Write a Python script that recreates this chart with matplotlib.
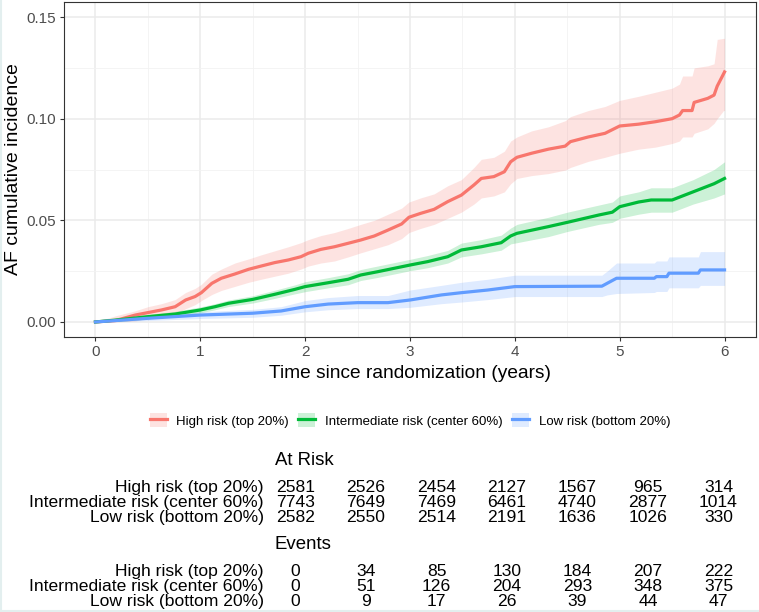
import numpy as np
import matplotlib
matplotlib.use('Agg')
from matplotlib import pyplot as plt
from matplotlib.patches import Patch
from matplotlib.lines import Line2D

plt.rcParams['font.family'] = ['Liberation Sans', 'DejaVu Sans']

# cumulative incidence + 95% band
t_high = [0, 0.19, 0.38, 0.5, 0.63, 0.76, 0.86, 0.95, 1.01, 1.11, 1.2, 1.33, 1.46, 1.58, 1.71,
          1.84, 1.96, 2.03, 2.15, 2.28, 2.41, 2.53, 2.66, 2.79, 2.92, 2.99, 3.1, 3.23, 3.36,
          3.49, 3.61, 3.68, 3.8, 3.9, 3.96, 4.02, 4.16, 4.32, 4.48, 4.53, 4.7, 4.86, 5.0, 5.18,
          5.34, 5.5, 5.57, 5.6, 5.69, 5.71, 5.84, 5.9, 5.93, 5.99, 6.0]
est_high = [0, 0.0007, 0.0034, 0.0046, 0.0059, 0.0075, 0.0108, 0.0125, 0.0144, 0.019, 0.0215,
            0.0236, 0.0259, 0.0275, 0.0292, 0.0305, 0.0321, 0.0338, 0.0357, 0.037, 0.0387,
            0.0403, 0.0423, 0.0452, 0.0482, 0.0515, 0.0534, 0.0554, 0.0592, 0.0624, 0.0674,
            0.0706, 0.0715, 0.0739, 0.0788, 0.081, 0.083, 0.085, 0.0865, 0.0887, 0.091, 0.0928,
            0.0964, 0.0973, 0.0985, 0.100, 0.1018, 0.104, 0.104, 0.108, 0.110, 0.1116, 0.116,
            0.122, 0.123]
lo_high = [0, 0, 0.0005, 0.0018, 0.0025, 0.004, 0.0065, 0.0085, 0.0105, 0.0135, 0.0155, 0.0175,
           0.0195, 0.021, 0.0225, 0.024, 0.026, 0.0275, 0.029, 0.030, 0.032, 0.034, 0.036, 0.038,
           0.041, 0.044, 0.046, 0.048, 0.051, 0.054, 0.058, 0.061, 0.062, 0.064, 0.068, 0.0706,
           0.072, 0.073, 0.0747, 0.076, 0.079, 0.081, 0.083, 0.085, 0.086, 0.0878, 0.089, 0.091,
           0.091, 0.0928, 0.095, 0.0977, 0.100, 0.104, 0.104]
hi_high = [0, 0.003, 0.0055, 0.0075, 0.009, 0.011, 0.0145, 0.0165, 0.0185, 0.0235, 0.026, 0.029,
           0.031, 0.033, 0.035, 0.037, 0.039, 0.0405, 0.0425, 0.044, 0.046, 0.048, 0.050, 0.053,
           0.056, 0.059, 0.061, 0.063, 0.067, 0.070, 0.076, 0.080, 0.081, 0.084, 0.089, 0.091,
           0.094, 0.096, 0.099, 0.101, 0.104, 0.106, 0.109, 0.111, 0.113, 0.115, 0.117, 0.121,
           0.121, 0.125, 0.126, 0.127, 0.139, 0.1395, 0.1395]

t_mid = [0, 0.25, 0.5, 0.76, 1.0, 1.14, 1.27, 1.5, 1.71, 1.9, 2.0, 2.22, 2.41, 2.53, 2.69, 3.0,
         3.17, 3.36, 3.49, 3.68, 3.87, 3.96, 4.02, 4.32, 4.5, 4.8, 4.93, 5.0, 5.18, 5.3, 5.5,
         5.7, 5.9, 6.0]
est_mid = [0, 0.0012, 0.0026, 0.0039, 0.0059, 0.0075, 0.0092, 0.0111, 0.0136, 0.016, 0.0174,
           0.0193, 0.021, 0.0231, 0.0247, 0.028, 0.0297, 0.0321, 0.0354, 0.037, 0.039, 0.0423,
           0.0436, 0.0469, 0.049, 0.0526, 0.054, 0.0567, 0.059, 0.060, 0.060, 0.064, 0.068, 0.0706]
lo_mid = [0, 0.0003, 0.0015, 0.0027, 0.0045, 0.006, 0.0076, 0.0093, 0.0116, 0.0138, 0.0149,
          0.0168, 0.0183, 0.0204, 0.0219, 0.0252, 0.0267, 0.029, 0.032, 0.0335, 0.0353, 0.0384,
          0.039, 0.042, 0.0445, 0.048, 0.049, 0.051, 0.053, 0.054, 0.054, 0.058, 0.061, 0.063]
hi_mid = [0, 0.002, 0.0037, 0.0052, 0.0074, 0.009, 0.0108, 0.0129, 0.0156, 0.0182, 0.0198,
          0.0218, 0.0237, 0.0258, 0.0275, 0.0308, 0.0327, 0.0352, 0.0388, 0.0405, 0.0427, 0.0462,
          0.048, 0.0515, 0.054, 0.0575, 0.059, 0.062, 0.064, 0.066, 0.066, 0.070, 0.075, 0.0788]

t_low = [0, 0.5, 1.0, 1.5, 1.77, 2.0, 2.22, 2.5, 2.79, 3.0, 3.3, 3.49, 3.74, 4.0, 4.83, 4.88,
         4.97, 5.33, 5.35, 5.45, 5.47, 5.75, 5.77, 6.0]
est_low = [0, 0.0018, 0.0034, 0.0043, 0.0054, 0.0075, 0.0088, 0.0095, 0.0095, 0.0108, 0.0133,
           0.0144, 0.0157, 0.0174, 0.0176, 0.019, 0.0215, 0.0215, 0.0223, 0.0223, 0.024, 0.024,
           0.0256, 0.0256]
lo_low = [0, 0.0007, 0.0017, 0.0023, 0.0033, 0.005, 0.006, 0.0066, 0.0066, 0.0072, 0.009,
          0.0098, 0.011, 0.0125, 0.0125, 0.0133, 0.014, 0.0145, 0.015, 0.015, 0.0168, 0.0168,
          0.018, 0.018]
hi_low = [0, 0.0032, 0.005, 0.0062, 0.0075, 0.0105, 0.012, 0.013, 0.013, 0.0157, 0.018, 0.0195,
          0.021, 0.023, 0.023, 0.025, 0.029, 0.029, 0.030, 0.030, 0.032, 0.032, 0.0346, 0.0346]

labels = ['High risk (top 20%)', 'Intermediate risk (center 60%)', 'Low risk (bottom 20%)']
colors = ['#F8766D', '#00BA38', '#619CFF']

# numbers at years 0..6
at_risk = [[2581, 2526, 2454, 2127, 1567, 965, 314],
           [7743, 7649, 7469, 6461, 4740, 2877, 1014],
           [2582, 2550, 2514, 2191, 1636, 1026, 330]]
events = [[0, 34, 85, 130, 184, 207, 222],
          [0, 51, 126, 204, 293, 348, 375],
          [0, 9, 17, 26, 39, 44, 47]]

W, H = 759, 612
fig = plt.figure(figsize=(W / 100, H / 100), dpi=100)
ax = fig.add_axes([64 / W, 1 - 337 / H, (756 - 64) / W, (337 - 2) / H])

series = [(t_high, est_high, lo_high, hi_high), (t_mid, est_mid, lo_mid, hi_mid),
          (t_low, est_low, lo_low, hi_low)]
for (t, e, lo, hi), c in zip(series, colors):
    ax.fill_between(t, lo, hi, color=c, alpha=0.2, lw=0)
for (t, e, lo, hi), c in zip(series, colors):
    ax.plot(t, e, color=c, lw=2.3)

ax.set_xlim(-0.3, 6.3)
ax.set_ylim(-0.0074, 0.1574)
ax.set_xticks(range(7))
ax.set_yticks([0, 0.05, 0.10, 0.15])
ax.set_yticklabels(['0.00', '0.05', '0.10', '0.15'])
ax.set_xticks(np.arange(0.5, 6.5, 1), minor=True)
ax.set_yticks([0.025, 0.075, 0.125], minor=True)
ax.grid(True, which='major', color='#EBEBEB', lw=1.1)
ax.grid(True, which='minor', color='#F2F2F2', lw=0.6)
ax.set_axisbelow(True)
ax.tick_params(which='major', length=3, width=0.8, color='#333333', labelcolor='#4D4D4D',
               labelsize=11, pad=3)
ax.tick_params(which='minor', length=0)
for s in ax.spines.values():
    s.set_color('#333333')
    s.set_linewidth(0.8)

ax.set_xlabel('Time since randomization (years)', fontsize=13.8, va='center')
ax.xaxis.set_label_coords(0.5, (337 - 373) / 335)
ax.set_ylabel('AF cumulative incidence', fontsize=14, va='center')
ax.yaxis.set_label_coords((14 - 64) / 692, 0.5)

handles = [(Patch(facecolor=c, alpha=0.2, lw=0), Line2D([], [], color=c, lw=2.3)) for c in colors]
fs_leg = 9.5
fig.legend(handles, labels, loc='center', bbox_to_anchor=(410 / W, 1 - 420.5 / H), ncol=3,
           frameon=False, fontsize=fs_leg, handlelength=17 / (fs_leg * 1.389),
           handleheight=17 / (fs_leg * 1.389), handletextpad=0.75, columnspacing=0.7)

# risk table
col_x = 295.5 + 70.5 * np.arange(7)
fs_tab = 12.6
fig.text(275 / W, 1 - 465 / H, 'At Risk', fontsize=13.4, va='baseline', ha='left')
fig.text(275 / W, 1 - 549 / H, 'Events', fontsize=13.4, va='baseline', ha='left')
for block, base in [(at_risk, [492, 507, 522]), (events, [576, 591, 606])]:
    for i in range(3):
        fig.text(264 / W, 1 - base[i] / H, labels[i], fontsize=fs_tab, va='baseline', ha='right')
        for j in range(7):
            fig.text(col_x[j] / W, 1 - base[i] / H, str(block[i][j]), fontsize=fs_tab,
                     va='baseline', ha='center')

# faint frame on the left and bottom edge
fig.add_artist(Line2D([0.001, 0.001], [0, 1], transform=fig.transFigure, color='#E3EFEF', lw=1.5))
fig.add_artist(Line2D([0, 1], [0.001, 0.001], transform=fig.transFigure, color='#E3EFEF', lw=1.5))

fig.savefig('out.png', dpi=100)
